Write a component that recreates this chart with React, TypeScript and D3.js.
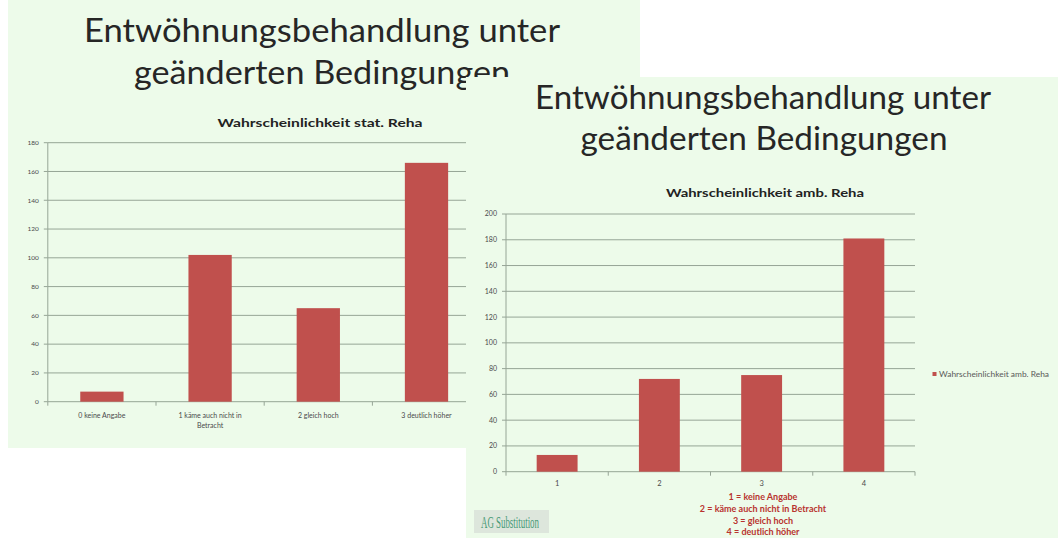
import React from "react";
import * as d3 from "d3";

// ---- data ----
const statCategories = ["0 keine Angabe", "1 käme auch nicht in|Betracht", "2 gleich hoch", "3 deutlich höher"];
const statValues = [7, 102, 65, 166];
const statTicks = [0, 20, 40, 60, 80, 100, 120, 140, 160, 180];

const ambCategories = ["1", "2", "3", "4"];
const ambValues = [13, 72, 75, 181];
const ambTicks = [0, 20, 40, 60, 80, 100, 120, 140, 160, 180, 200];

const slideTitle = ["Entwöhnungsbehandlung unter", "geänderten Bedingungen"];
const statTitle = "Wahrscheinlichkeit stat. Reha";
const ambTitle = "Wahrscheinlichkeit amb. Reha";
const ambNotes = ["1 = keine Angabe", "2 = käme auch nicht in Betracht", "3 = gleich hoch", "4 = deutlich höher"];

const BG = "#edfbea";
const BAR = "#c0504d";
const GRID = "#96a596";
const FONT = "Lato, 'Open Sans', sans-serif";

type ChartProps = {
  cats: string[];
  vals: number[];
  ticks: number[];
  x0: number;
  x1: number;
  yBottom: number;
  yTop: number;
  max: number;
  tickFont: number;
  catFont: number;
  catY: number;
};

function BarChart(p: ChartProps) {
  const x = d3.scaleBand<string>().domain(p.cats).range([p.x0, p.x1]).paddingInner(0.6).paddingOuter(0.3);
  const y = d3.scaleLinear().domain([0, p.max]).range([p.yBottom, p.yTop]);
  const step = x.step();
  const boundaries = d3.range(p.cats.length + 1).map((i) => p.x0 + i * step);
  return (
    <g>
      {p.ticks.map((t) => (
        <g key={t}>
          {t > 0 && <line x1={p.x0} x2={p.x1} y1={y(t)} y2={y(t)} stroke={GRID} strokeWidth={1} />}
          <line x1={p.x0 - 4} x2={p.x0} y1={y(t)} y2={y(t)} stroke={GRID} strokeWidth={1} />
          <text x={p.x0 - 9} y={y(t)} dy="0.35em" textAnchor="end" fontSize={p.tickFont} fill="#4a4a4a" fontFamily={FONT}>
            {t}
          </text>
        </g>
      ))}
      <line x1={p.x0} x2={p.x0} y1={y(p.max)} y2={p.yBottom} stroke={GRID} strokeWidth={1} />
      <line x1={p.x0} x2={p.x1} y1={p.yBottom} y2={p.yBottom} stroke={GRID} strokeWidth={1} />
      {boundaries.map((b, i) => (
        <line key={i} x1={b} x2={b} y1={p.yBottom} y2={p.yBottom + 4} stroke={GRID} strokeWidth={1} />
      ))}
      {p.cats.map((c, i) => (
        <rect key={c} x={x(c)!} width={x.bandwidth()} y={y(p.vals[i])} height={p.yBottom - y(p.vals[i])} fill={BAR} />
      ))}
      {p.cats.map((c) => {
        const lines = c.split("|");
        return (
          <text key={c} x={x(c)! + x.bandwidth() / 2} y={p.catY} textAnchor="middle" fontSize={p.catFont} fill="#4a4a4a" fontFamily={FONT}>
            {lines.map((l, j) => (
              <tspan key={j} x={x(c)! + x.bandwidth() / 2} dy={j === 0 ? 0 : p.catFont * 1.4}>
                {l}
              </tspan>
            ))}
          </text>
        );
      })}
    </g>
  );
}

export default function App() {
  return (
    <svg width={1058} height={538} style={{ position: "absolute", left: 0, top: 0 }} xmlns="http://www.w3.org/2000/svg">
      <rect x={0} y={0} width={1058} height={538} fill="#ffffff" />
      {/* left slide */}
      <g>
        <rect x={8} y={0} width={632} height={448} fill={BG} />
        <text x={322} y={42} textAnchor="middle" fontSize={33} fill="#262626" fontFamily={FONT} textLength={476} lengthAdjust="spacingAndGlyphs">
          {slideTitle[0]}
        </text>
        <text x={322} y={84} textAnchor="middle" fontSize={33} fill="#262626" fontFamily={FONT} textLength={376} lengthAdjust="spacingAndGlyphs">
          {slideTitle[1]}
        </text>
        <text x={320} y={127} textAnchor="middle" fontSize={12} fontWeight="bold" fill="#222" fontFamily={FONT} textLength={205} lengthAdjust="spacingAndGlyphs">
          {statTitle}
        </text>
        <BarChart cats={statCategories} vals={statValues} ticks={statTicks} x0={47.8} x1={480.6} yBottom={401.7} yTop={142.7} max={180} tickFont={6.5} catFont={7} catY={418} />
      </g>
      {/* right slide */}
      <g>
        <rect x={466} y={77} width={592} height={461} fill={BG} />
        <text x={763} y={109} textAnchor="middle" fontSize={32} fill="#262626" fontFamily={FONT} textLength={456} lengthAdjust="spacingAndGlyphs">
          {slideTitle[0]}
        </text>
        <text x={764} y={150} textAnchor="middle" fontSize={32} fill="#262626" fontFamily={FONT} textLength={367} lengthAdjust="spacingAndGlyphs">
          {slideTitle[1]}
        </text>
        <text x={765} y={197} textAnchor="middle" fontSize={12} fontWeight="bold" fill="#222" fontFamily={FONT} textLength={198} lengthAdjust="spacingAndGlyphs">
          {ambTitle}
        </text>
        <BarChart cats={ambCategories} vals={ambValues} ticks={ambTicks} x0={506} x1={915} yBottom={471.7} yTop={214} max={200} tickFont={7} catFont={7.5} catY={486} />
        <rect x={932.5} y={372} width={4} height={4} fill={BAR} />
        <text x={939} y={376.5} fontSize={7.2} fill="#595959" fontFamily={FONT} textLength={110} lengthAdjust="spacingAndGlyphs">
          {ambTitle}
        </text>
        {ambNotes.map((n, i) => (
          <text key={n} x={763} y={500 + i * 11.8} textAnchor="middle" fontSize={9} fontWeight="bold" fill="#b8332f" fontFamily={FONT}>
            {n}
          </text>
        ))}
        <rect x={474} y={510} width={75} height={23} fill="#dde6dc" />
        <text x={481} y={528} fontSize={16} fill="#479a76" fontFamily="'Liberation Serif', serif" textLength={58} lengthAdjust="spacingAndGlyphs">
          AG Substitution
        </text>
      </g>
    </svg>
  );
}
